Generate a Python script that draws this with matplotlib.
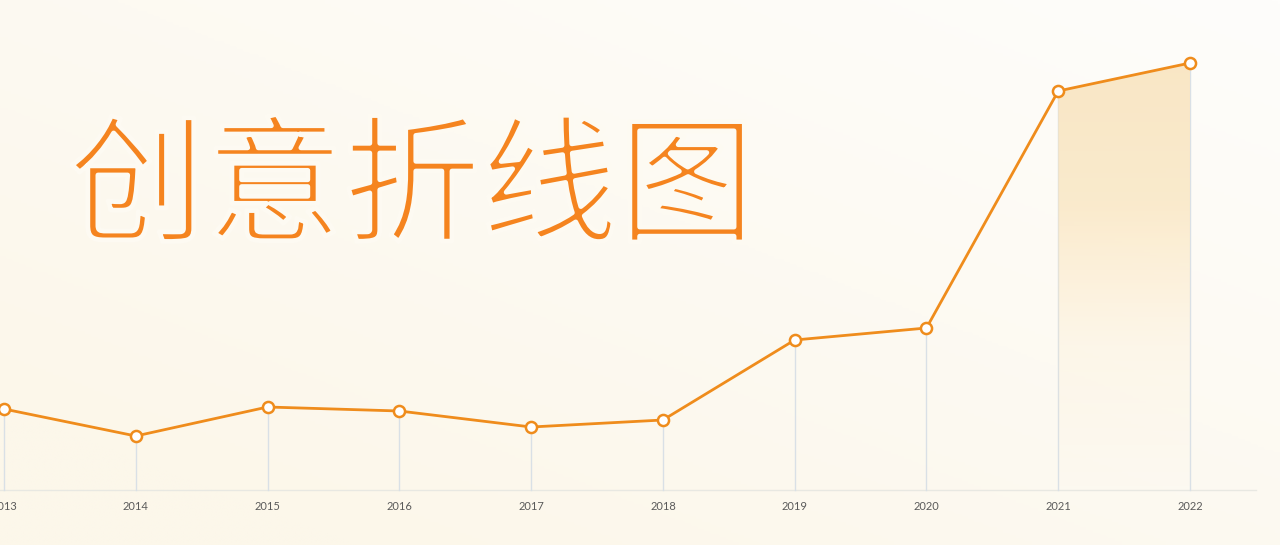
import numpy as np
import matplotlib.pyplot as plt
import matplotlib.patheffects as pe
from matplotlib.patches import Polygon
from matplotlib.colors import LinearSegmentedColormap

# data
years = [2013, 2014, 2015, 2016, 2017, 2018, 2019, 2020, 2021, 2022]
values = [81, 54, 83, 79, 63, 70, 150, 162, 399, 427]
title = '创意折线图'

W, H = 1280, 545
fig = plt.figure(figsize=(W / 100, H / 100), dpi=100)

# background gradient (cream, lighter to the upper right)
bg = fig.add_axes([0, 0, 1, 1])
bg.set_axis_off()
yy, xx = np.mgrid[0:1:200j, 0:1:400j]
t = np.clip(0.55 * (1 - xx) + 0.6 * yy, 0, 1)
bg_cmap = LinearSegmentedColormap.from_list('bg', ['#fefdfb', '#fcf7ea'])
bg.imshow(t, cmap=bg_cmap, aspect='auto', extent=[0, 1, 0, 1], origin='upper')
bg.set_xlim(0, 1)
bg.set_ylim(0, 1)

ax = fig.add_axes([0, 0, 1, 1])
ax.patch.set_alpha(0)
for s in ax.spines.values():
    s.set_visible(False)

step = 131.78
x0 = 2013 - 4 / step
x1 = 2013 + 1276 / step
ax.set_xlim(x0, x1)
ax.set_ylim(-55, 490)
ax.set_yticks([])
ax.set_xticks([])

# baseline
ax.plot([x0, 2013 + 1252 / step], [0, 0], color='#e8e8e2', lw=1, zorder=1)

# vertical guides from points to baseline
for x, v in zip(years, values):
    ax.plot([x, x], [0, v], color='#d9e0e6', lw=1, zorder=1)

# gradient area for the last segment
fill_cmap = LinearSegmentedColormap.from_list(
    'fill', [(0.99, 0.91, 0.76, 0.0), (0.99, 0.91, 0.76, 0.2),
             (0.98, 0.90, 0.75, 0.75), (0.98, 0.89, 0.74, 0.85)])
grad = np.linspace(0, 1, 256).reshape(-1, 1)
im = ax.imshow(grad, cmap=fill_cmap, aspect='auto', origin='lower',
               extent=[years[8], years[9], 0, values[9]], zorder=2)
poly = Polygon([[years[8], 0], [years[8], values[8]], [years[9], values[9]], [years[9], 0]],
               closed=True, facecolor='none', edgecolor='none')
ax.add_patch(poly)
im.set_clip_path(poly)

# main line
ax.plot(years, values, color='#ef8c1c', lw=2, zorder=3,
        marker='o', markersize=8, markerfacecolor='white',
        markeredgecolor='#ef8c1c', markeredgewidth=1.8)

# year labels
for x in years:
    ax.text(x, -16, str(x), ha='center', va='center', fontsize=8,
            color='#5a5a5a', family=['Lato', 'DejaVu Sans'])

# big title; an outline in the background colour thins the strokes
fig.text(412 / W, 1 - 192 / H, title, ha='center', va='center',
         fontsize=99, color='#f5841f',
         family=['Noto Sans CJK SC', 'DejaVu Sans'],
         path_effects=[pe.Normal(), pe.Stroke(linewidth=3.5, foreground='#fdfaf2')])

fig.savefig('out.png', dpi=100)
